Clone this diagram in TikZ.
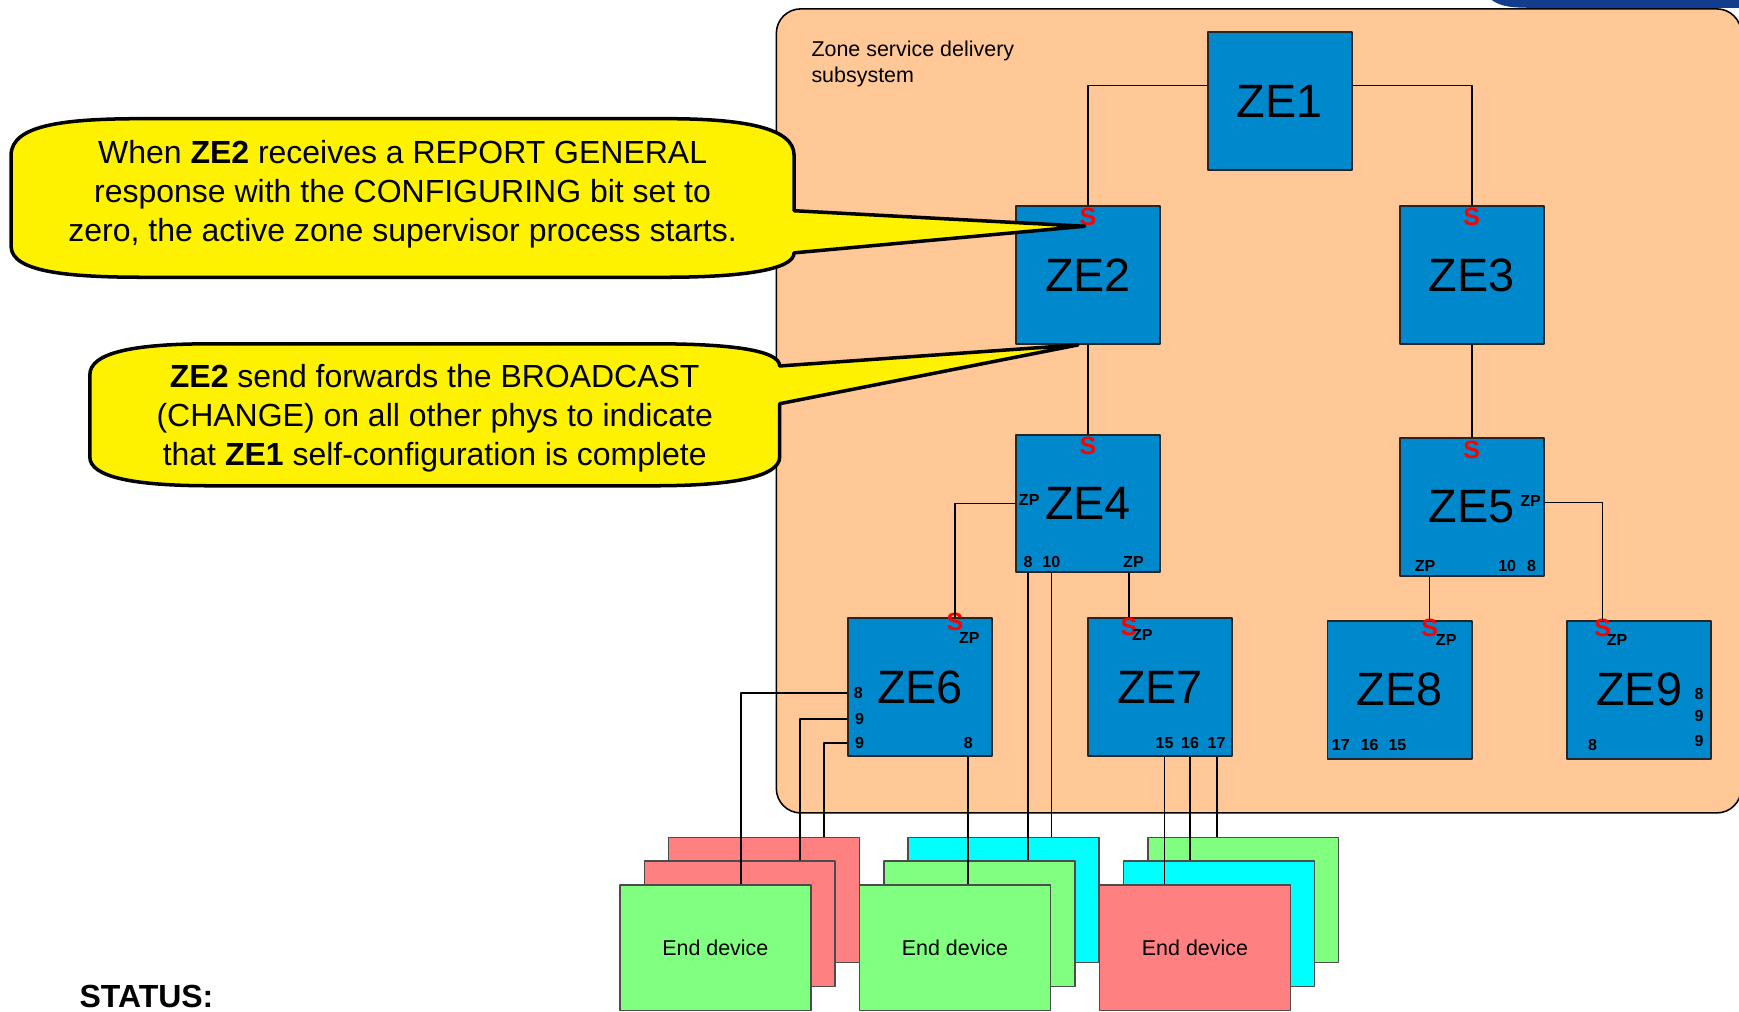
\documentclass[tikz,border=0pt]{standalone}
\usepackage{fontspec}
\setmainfont{Liberation Sans}
\usepackage{tikz}
\usetikzlibrary{arrows.meta,positioning}
\definecolor{zoneorange}{HTML}{FFC896}
\definecolor{zeblue}{HTML}{0088CC}
\definecolor{devred}{HTML}{FF8080}
\definecolor{devgreen}{HTML}{80FF80}
\definecolor{devcyan}{HTML}{00FFFF}
\definecolor{hdrblue}{HTML}{123C8C}

\begin{document}
\begin{tikzpicture}[x=0.01cm,y=-0.01cm,line join=round,
  ze/.style={draw=black!85,fill=zeblue,line width=.5pt,minimum width=1.3cm,minimum height=1.24cm,inner sep=0pt,font=\fontsize{12}{13}\selectfont},
  port/.style={inner sep=0pt,font=\fontsize{4.1}{4.5}\selectfont\bfseries},
  sport/.style={inner sep=0pt,text=red,font=\fontsize{6.4}{7}\selectfont\bfseries},
  dev/.style={draw=black!70,line width=.4pt,minimum width=1.72cm,minimum height=1.13cm,inner sep=0pt,font=\fontsize{5.5}{6.5}\selectfont},
  wire/.style={draw=black,line width=.45pt},
  callout/.style={draw=black,fill=yellow,line width=.9pt},
  note/.style={align=center,inner sep=0pt,font=\fontsize{8.2}{9.95}\selectfont}]
\useasboundingbox (0,0) rectangle (1568,912);
\fill[hdrblue] (1345,0) .. controls (1352,5) and (1360,7) .. (1378,7) -- (1568,7) -- (1568,0) -- cycle;
\draw[fill=zoneorange,line width=.4pt,rounded corners=0.22cm] (700,8) rectangle (1570,733);
\node[anchor=north west,align=left,inner sep=0pt,font=\fontsize{5.5}{6.8}\selectfont] (zone) at (731,36) {Zone service delivery\\subsystem};
\node[ze] (ze1) at (1154,91) {ZE1};
\node[ze] (ze2) at (981,248) {ZE2};
\node[ze] (ze3) at (1327,248) {ZE3};
\node[ze] (ze4) at (981,454) {ZE4};
\node[ze] (ze5) at (1327,457) {ZE5};
\node[ze] (ze6) at (829.5,619.5) {ZE6};
\node[ze] (ze7) at (1046,619.5) {ZE7};
\node[ze] (ze8) at (1262,622) {ZE8};
\node[ze] (ze9) at (1478,622) {ZE9};
\node[sport] (ze2s) at (981,196) {S};
\node[sport] (ze3s) at (1327,196) {S};
\node[sport] (ze4s) at (981,402) {S};
\node[sport] (ze5s) at (1327,406) {S};
\node[sport] (ze6s) at (861,561) {S};
\node[sport] (ze7s) at (1018,565) {S};
\node[sport] (ze8s) at (1289,566) {S};
\node[sport] (ze9s) at (1445,566) {S};
\node[port] (ze4zpl) at (928,451) {ZP};
\node[port] (ze4p8) at (927,507) {8};
\node[port] (ze4p10) at (948,507) {10};
\node[port] (ze4zpb) at (1022,507) {ZP};
\node[port] (ze5zpr) at (1380,452) {ZP};
\node[port] (ze5zpb) at (1285,510) {ZP};
\node[port] (ze5p10) at (1359,510) {10};
\node[port] (ze5p8) at (1381,510) {8};
\node[port] (ze6zp) at (874,575) {ZP};
\node[port] (ze6p8) at (774,625) {8};
\node[port] (ze6p9a) at (775,648) {9};
\node[port] (ze6p9b) at (775,670) {9};
\node[port] (ze6p8b) at (873,670) {8};
\node[port] (ze7zp) at (1030,573) {ZP};
\node[port] (ze7p15) at (1050,670) {15};
\node[port] (ze7p16) at (1073,670) {16};
\node[port] (ze7p17) at (1097,670) {17};
\node[port] (ze8zp) at (1304,577) {ZP};
\node[port] (ze8p17) at (1209,672) {17};
\node[port] (ze8p16) at (1235,672) {16};
\node[port] (ze8p15) at (1260,672) {15};
\node[port] (ze9zp) at (1458,577) {ZP};
\node[port] (ze9p8) at (1532,626) {8};
\node[port] (ze9p9a) at (1532,646) {9};
\node[port] (ze9p9b) at (1532,668) {9};
\node[port] (ze9p8b) at (1436,672) {8};
\draw[wire] ([yshift=0.14cm]ze1.west) -| (ze2.north);
\draw[wire] ([yshift=0.14cm]ze1.east) -| (ze3.north);
\draw[wire] (ze2.south) -- (ze4.north);
\draw[wire] (ze3.south) -- (ze5.north);
\draw[wire] (ze4.west) -| (ze6s |- ze6.north);
\draw[wire] (ze7s |- ze4.south) -- (ze7s |- ze7.north);
\draw[wire] (ze8s |- ze5.south) -- (ze8s |- ze8.north);
\draw[wire] ([yshift=0.04cm]ze5.east) -| (ze9s |- ze9.north);
\node[dev,fill=devred] (dev1b) at (689,811.5) {};
\node[dev,fill=devred] (dev1m) at (667,833) {};
\node[dev,fill=devgreen] (dev1f) at (645,854.5) {End device};
\node[dev,fill=devcyan] (dev2b) at (905,811.5) {};
\node[dev,fill=devgreen] (dev2m) at (883,833) {};
\node[dev,fill=devgreen] (dev2f) at (861,854.5) {End device};
\node[dev,fill=devgreen] (dev3b) at (1121,811.5) {};
\node[dev,fill=devcyan] (dev3m) at (1099,833) {};
\node[dev,fill=devred] (dev3f) at (1077.5,854.5) {End device};
\draw[wire] (ze6.west |- ze6p8) -| ([xshift=0.23cm]dev1f.north);
\draw[wire] (ze6.west |- ze6p9a) -| ([xshift=0.54cm]dev1m.north);
\draw[wire] (ze6.west |- ze6p9b) -| ([xshift=0.54cm]dev1b.north);
\draw[wire] (ze6p8b |- ze6.south) -- (ze6p8b |- dev2f.north);
\draw[wire] (ze4p8 |- ze4.south) -- (ze4p8 |- dev2m.north);
\draw[wire] (ze4p10 |- ze4.south) -- (ze4p10 |- dev2b.north);
\draw[wire] (ze7p15 |- ze7.south) -- (ze7p15 |- dev3f.north);
\draw[wire] (ze7p16 |- ze7.south) -- (ze7p16 |- dev3m.north);
\draw[wire] (ze7p17 |- ze7.south) -- (ze7p17 |- dev3b.north);
\coordinate (tip1) at (978,204);
\coordinate (tip2) at (972,311);
\draw[callout] (130,107) -- (600,107) .. controls (670,107) and (716,115) .. (716,140) -- (716,190) -- (tip1) -- (716,228) .. controls (716,243) and (670,250) .. (600,250) -- (130,250) .. controls (60,250) and (10,245) .. (10,222) -- (10,140) .. controls (10,112) and (60,107) .. (130,107) -- cycle;
\draw[callout] (190,310) -- (590,310) .. controls (660,310) and (703,316) .. (703,330) -- (tip2) -- (703,364) -- (703,412) .. controls (703,430) and (660,438) .. (590,438) -- (190,438) .. controls (120,438) and (81,430) .. (81,412) -- (81,338) .. controls (81,318) and (120,310) .. (190,310) -- cycle;
\node[note] (note1) at (363,175) {When \textbf{ZE2} receives a REPORT GENERAL\\response with the CONFIGURING bit set to\\zero, the active zone supervisor process starts.};
\node[note] (note2) at (392,377) {\textbf{ZE2} send forwards the BROADCAST\\(CHANGE) on all other phys to indicate\\that \textbf{ZE1} self-configuration is complete};
\node[anchor=base west,inner sep=0pt,font=\fontsize{8.2}{9}\selectfont\bfseries] (status) at (71,908) {STATUS:};
\end{tikzpicture}
\end{document}
